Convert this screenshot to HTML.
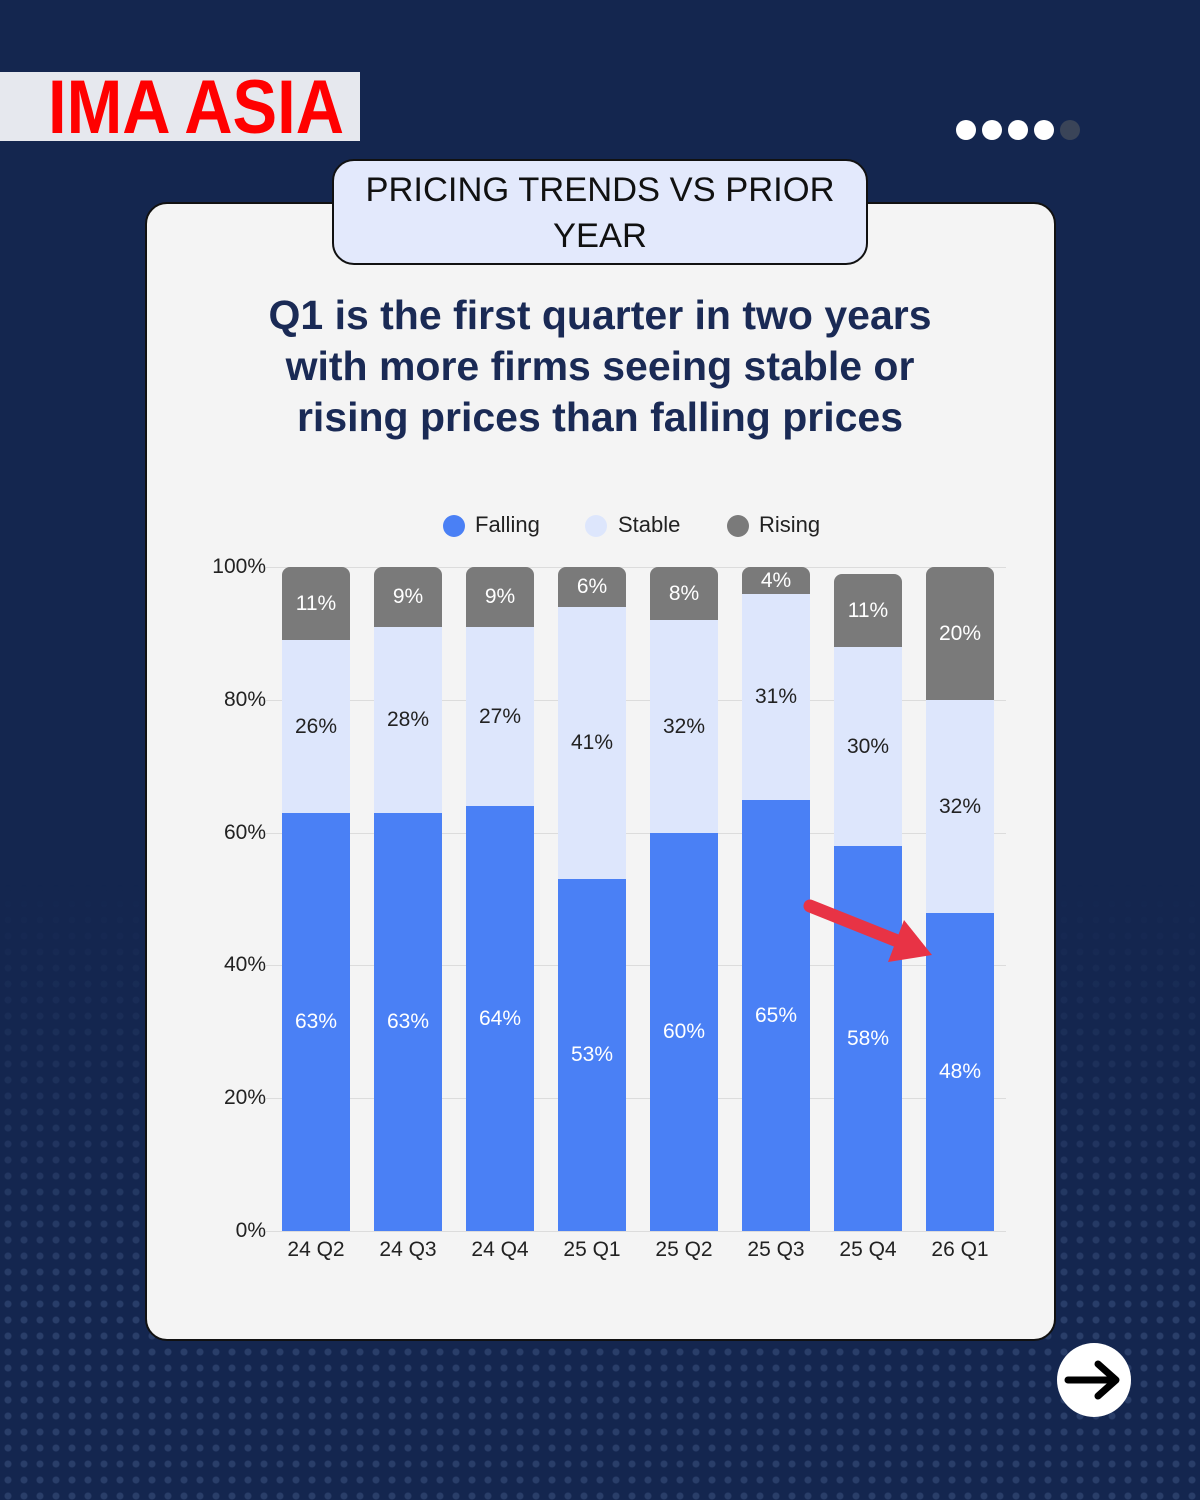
<!DOCTYPE html>
<html><head><style>
*{margin:0;padding:0;box-sizing:border-box}
body{width:1200px;height:1500px;position:relative;overflow:hidden;font-family:"Liberation Sans",sans-serif;
background:#14264f;}
.dots{position:absolute;left:0;top:880px;width:1200px;height:620px;
background-image:radial-gradient(circle,rgba(120,150,200,0.22) 3px,transparent 4px);background-size:16px 16px;
-webkit-mask-image:linear-gradient(to bottom,transparent,black 70%);mask-image:linear-gradient(to bottom,transparent,black 70%)}
.abs{position:absolute}
.lbl{position:absolute;width:68px;text-align:center;font-size:21px;transform:translateY(-50%)}
.tick{position:absolute;left:190px;width:76px;text-align:right;font-size:21px;color:#222;transform:translateY(-50%)}
.grid{position:absolute;left:266px;width:740px;height:1px;background:#dcdcdc}
.xl{position:absolute;top:1238px;width:92px;text-align:center;font-size:21px;color:#222}
</style></head><body>
<div class="dots"></div>
<div class="abs" style="left:0;top:72px;width:360px;height:69px;background:#e6e8ee"></div>
<div class="abs" style="left:48px;top:68px;font-size:76px;font-weight:bold;color:#ff0000;transform:scaleX(0.88);transform-origin:left top;line-height:80px;white-space:nowrap">IMA ASIA</div>
<div class="abs" style="left:956px;top:120px;width:20px;height:20px;border-radius:50%;background:#fff"></div>
<div class="abs" style="left:982px;top:120px;width:20px;height:20px;border-radius:50%;background:#fff"></div>
<div class="abs" style="left:1008px;top:120px;width:20px;height:20px;border-radius:50%;background:#fff"></div>
<div class="abs" style="left:1034px;top:120px;width:20px;height:20px;border-radius:50%;background:#fff"></div>
<div class="abs" style="left:1060px;top:120px;width:20px;height:20px;border-radius:50%;background:#3a4458"></div>
<div class="abs" style="left:145px;top:202px;width:911px;height:1139px;background:#f4f4f4;border:2px solid #111;border-radius:22px"></div>
<div class="abs" style="left:332px;top:159px;width:536px;height:106px;background:#e3e9fc;border:2px solid #111;border-radius:22px;text-align:center;font-size:34.5px;line-height:46px;padding-top:6px;color:#111">PRICING TRENDS VS PRIOR<br>YEAR</div>
<div class="abs" style="left:150px;top:290px;width:900px;text-align:center;font-size:41px;font-weight:bold;line-height:51px;color:#1a2a55">Q1 is the first quarter in two years<br>with more firms seeing stable or<br>rising prices than falling prices</div>
<div class="abs" style="left:443px;top:515px;width:22px;height:22px;border-radius:50%;background:#4a80f5"></div>
<div class="abs" style="left:475px;top:512px;font-size:22px;color:#222">Falling</div>
<div class="abs" style="left:585px;top:515px;width:22px;height:22px;border-radius:50%;background:#dde6fc"></div>
<div class="abs" style="left:618px;top:512px;font-size:22px;color:#222">Stable</div>
<div class="abs" style="left:727px;top:515px;width:22px;height:22px;border-radius:50%;background:#7a7a7a"></div>
<div class="abs" style="left:759px;top:512px;font-size:22px;color:#222">Rising</div>
<div class="grid" style="top:567px"></div><div class="grid" style="top:700px"></div><div class="grid" style="top:833px"></div><div class="grid" style="top:965px"></div><div class="grid" style="top:1098px"></div><div class="grid" style="top:1231px"></div>
<div class="tick" style="top:567px">100%</div><div class="tick" style="top:700px">80%</div><div class="tick" style="top:833px">60%</div><div class="tick" style="top:965px">40%</div><div class="tick" style="top:1098px">20%</div><div class="tick" style="top:1231px">0%</div>
<div id="bars"></div>
<svg class="abs" style="left:0;top:0" width="1200" height="1500">
<line x1="810" y1="906" x2="900" y2="942" stroke="#e83345" stroke-width="13" stroke-linecap="round"/>
<polygon points="888,962 904,920 932,955" fill="#e83345"/>
<circle cx="1094" cy="1380" r="37" fill="#fff"/>
<line x1="1068" y1="1380" x2="1112" y2="1380" stroke="#000" stroke-width="7" stroke-linecap="round"/>
<polyline points="1098,1364 1116,1380 1098,1396" fill="none" stroke="#000" stroke-width="7" stroke-linecap="round" stroke-linejoin="round"/>
</svg>
<script>
var d=[["24 Q2",813,640,567,"63%","26%","11%"],["24 Q3",813,627,567,"63%","28%","9%"],["24 Q4",806,627,567,"64%","27%","9%"],["25 Q1",879,607,567,"53%","41%","6%"],["25 Q2",833,620,567,"60%","32%","8%"],["25 Q3",800,594,567,"65%","31%","4%"],["25 Q4",846,647,574,"58%","30%","11%"],["26 Q1",913,700,567,"48%","32%","20%"]];
var h="";
d.forEach(function(b,i){var x=282+i*92;
h+='<div class="abs" style="left:'+x+'px;top:'+b[3]+'px;width:68px;height:'+(b[2]-b[3])+'px;background:#7a7a7a;border-radius:8px 8px 0 0"></div>';
h+='<div class="abs" style="left:'+x+'px;top:'+b[2]+'px;width:68px;height:'+(b[1]-b[2])+'px;background:#dde6fc"></div>';
h+='<div class="abs" style="left:'+x+'px;top:'+b[1]+'px;width:68px;height:'+(1231-b[1])+'px;background:#4a80f5"></div>';
h+='<div class="lbl" style="left:'+x+'px;top:'+((b[1]+1231)/2)+'px;color:#fff">'+b[4]+'</div>';
h+='<div class="lbl" style="left:'+x+'px;top:'+((b[1]+b[2])/2)+'px;color:#222">'+b[5]+'</div>';
h+='<div class="lbl" style="left:'+x+'px;top:'+((b[2]+b[3])/2)+'px;color:#fff">'+b[6]+'</div>';
h+='<div class="xl" style="left:'+(x-12)+'px">'+b[0]+'</div>';});
document.getElementById("bars").innerHTML=h;
</script>
</body></html>
